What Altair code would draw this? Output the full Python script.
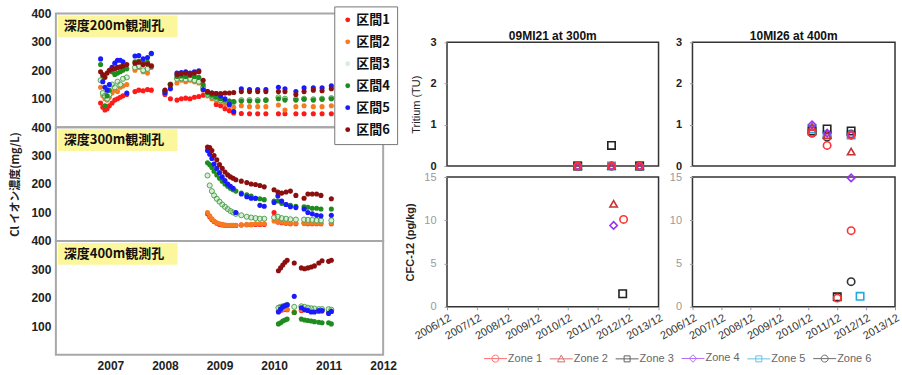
import altair as alt
import pandas as pd

# ---------------- left chart data (Cl ion concentration, mg/L) ----------------
zones_jp = ["区間1", "区間2", "区間3", "区間4", "区間5", "区間6"]
panel_labels = ["深度200m観測孔", "深度300m観測孔", "深度400m観測孔"]
left_years = [2007, 2008, 2009, 2010, 2011, 2012]
left_yticks = [100, 200, 300, 400]
left_ytitle = "Cl イオン濃度(mg/L)"

d200 = [2006.82, 2006.86, 2006.90, 2006.94, 2006.98,
        2007.03, 2007.08, 2007.13, 2007.18, 2007.23, 2007.30,
        2007.45, 2007.52, 2007.60, 2007.68, 2007.75,
        2008.00, 2008.10, 2008.22, 2008.30, 2008.38, 2008.46, 2008.54, 2008.62, 2008.70, 2008.78, 2008.86, 2008.94,
        2009.02, 2009.10, 2009.18, 2009.26,
        2009.40, 2009.55, 2009.70, 2009.85,
        2010.08, 2010.20, 2010.40, 2010.55, 2010.72, 2010.88,
        2011.05]
cl200_z1 = [85, 70, 60, 65, 75, 85, 95, 100, 105, 110, 115, 125, 130, 128, 132, 130,
            115, 100, 95, 100, 102, 100, 105, 108, 112, 120, 110, 80, 75, 65, 58, 50,
            48, 47, 47, 47, 47, 47, 47, 47, 47, 47, 47]
cl200_z2 = [140, 110, 100, 95, 105, 120, 130, 125, 140, 145, 150, 200, 210, 195, 190, 210,
            120, 140, 155, 165, 160, 165, 160, 155, 130, 110, 100, 95, 90, 82, 75, 70,
            75, 72, 72, 72, 78, 60, 72, 75, 72, 72, 75]
cl200_z3 = [165, 120, 110, 100, 115, 150, 140, 160, 150, 170, 175, 210, 215, 200, 205, 215,
            125, 150, 170, 172, 168, 170, 165, 160, 140, 115, 108, 100, 95, 92, 90, 88,
            95, 95, 95, 95, 105, 100, 98, 100, 98, 100, 102]
cl200_z4 = [220, 180, 75, 110, 130, 195, 185, 190, 195, 200, 205, 230, 232, 225, 228, 258,
            128, 150, 178, 180, 178, 182, 178, 175, 150, 120, 112, 105, 100, 95, 92, 90,
            92, 92, 92, 95, 100, 95, 95, 98, 95, 98, 100]
cl200_z5 = [240, 160, 140, 130, 150, 210, 225, 235, 235, 230, 120, 250, 252, 240, 245, 260,
            120, 135, 190, 192, 195, 190, 195, 198, 132, 125, 120, 118, 110, 100, 80, 55,
            135, 132, 132, 132, 140, 135, 125, 138, 138, 138, 145]
cl200_z6 = [195, 185, 175, 190, 200, 205, 205, 210, 212, 215, 220, 225, 228, 220, 222, 215,
            130, 150, 185, 188, 190, 185, 190, 195, 165, 125, 120, 118, 118, 120, 120, 122,
            125, 125, 125, 125, 125, 125, 115, 125, 130, 128, 135]

d300 = [2008.78, 2008.82, 2008.86, 2008.90, 2008.95, 2009.00, 2009.05, 2009.10, 2009.15, 2009.20,
        2009.25, 2009.30, 2009.40, 2009.50, 2009.58, 2009.66, 2009.74, 2009.82, 2010.00, 2010.07,
        2010.14, 2010.22, 2010.30, 2010.40, 2010.55, 2010.62, 2010.70, 2010.78, 2010.86, 2011.05]
cl300_z1 = [95, 85, 75, 68, 62, 58, 56, 55, 54, 54, 54, 54, 56, 57, 57,
            58, 58, 58, 100, 66, 64, 62, 60, 60, 62, 60, 60, 60, 60, 60]
cl300_z2 = [100, 88, 78, 70, 64, 60, 58, 56, 55, 55, 55, 55, 57, 58, 58,
            60, 60, 60, 70, 68, 66, 64, 62, 62, 64, 62, 62, 62, 62, 62]
cl300_z3 = [230, 195, 175, 160, 148, 138, 128, 120, 112, 105, 100, 95, 90, 85, 82,
            80, 78, 78, 82, 85, 80, 78, 76, 75, 75, 74, 74, 72, 72, 72]
cl300_z4 = [275, 268, 258, 245, 232, 220, 210, 200, 192, 185, 180, 175, 168, 162, 158,
            150, 148, 145, 140, 140, 132, 128, 125, 122, 120, 118, 115, 115, 112, 112]
cl300_z5 = [318, 305, 290, 270, 255, 240, 225, 212, 200, 192, 185, 100, 165, 155, 150,
            150, 125, 122, 135, 158, 140, 128, 120, 117, 112, 100, 95, 90, 88, 90]
cl300_z6 = [330, 328, 318, 300, 285, 268, 255, 242, 232, 225, 220, 215, 210, 205, 200,
            198, 195, 190, 180, 172, 168, 172, 175, 160, 150, 165, 165, 165, 160, 148]

d400 = [2010.08, 2010.12, 2010.16, 2010.20, 2010.24, 2010.37, 2010.50, 2010.56,
        2010.62, 2010.68, 2010.74, 2010.82, 2010.88, 2011.00, 2011.05]
cl400_z1 = [152, 155, 158, 160, 158, 148, 155, 158, 156, 154, 153, 152, 153, 148, 152]
cl400_z2 = [155, 158, 160, 162, 160, 150, 158, 160, 158, 156, 155, 154, 155, 150, 155]
cl400_z3 = [165, 168, 170, 172, 175, 168, 170, 168, 165, 163, 162, 160, 160, 160, 158]
cl400_z4 = [108, 112, 118, 122, 125, 148, 125, 122, 120, 118, 116, 114, 112, 112, 108]
cl400_z5 = [150, 160, 168, 172, 175, 205, 165, 158, 155, 150, 150, 155, 155, 145, 152]
cl400_z6 = [295, 305, 315, 325, 332, 322, 305, 302, 305, 308, 312, 322, 330, 328, 332]

# ---------------- right chart data ----------------
zones_en = ["Zone 1", "Zone 2", "Zone 3", "Zone 4", "Zone 5", "Zone 6"]
right_titles = ["09MI21 at 300m", "10MI26 at 400m"]
tri_title = "Tritium (TU)"
cfc_title = "CFC-12 (pg/kg)"
tick_years = [2006, 2007, 2008, 2009, 2010, 2011, 2012, 2013]
tri_ticks = [0, 1, 2, 3]
cfc_ticks = [0, 5, 10, 15]

tri09_year = [2011.24, 2012.36, 2013.29]
tri09_z1 = [0, 0, 0]
tri09_z2 = [0, 0, 0]
tri09_z3 = [0, 0.5, 0]
tri09_z4 = [0, 0, 0]
tri09_z5 = [0, 0, 0]
tri09_z6 = [0, 0, 0]

tri10_year = [2011.05, 2011.57, 2012.40]
tri10_z1 = [0.80, 0.50, 0.75]
tri10_z2 = [0.95, 0.75, 0.35]
tri10_z3 = [0.85, 0.90, 0.85]
tri10_z4 = [1.00, 0.80, 0.75]
tri10_z5 = [0.90, 0.75, 0.75]
tri10_z6 = [0.80, 0.70, 0.78]

cfc09_zone = ["Zone 2", "Zone 1", "Zone 4", "Zone 3"]
cfc09_year = [2012.43, 2012.76, 2012.43, 2012.73]
cfc09_val = [11.9, 10.1, 9.4, 1.5]

cfc10_zone = ["Zone 1", "Zone 3", "Zone 1", "Zone 4", "Zone 5", "Zone 6"]
cfc10_year = [2011.92, 2011.92, 2012.40, 2012.40, 2012.71, 2012.40]
cfc10_val = [1.0, 1.15, 8.8, 14.9, 1.2, 2.9]

# ---------------- styles ----------------
jp_colors = ["#ff1a1a", "#f47b20", "#d6f0d6", "#1e8c1e", "#1a1aff", "#8b0f0f"]
en_colors = {"Zone 1": "#ff3333", "Zone 2": "#c83232", "Zone 3": "#222222",
             "Zone 4": "#9933ee", "Zone 5": "#22aadd", "Zone 6": "#333333"}
en_shapes = {"Zone 1": "circle", "Zone 2": "triangle-up", "Zone 3": "square",
             "Zone 4": "diamond", "Zone 5": "square", "Zone 6": "circle"}
legend_paths = [
    "M-2.3,0H2.3M-0.7,0A0.7,0.7 0 1,0 0.7,0A0.7,0.7 0 1,0 -0.7,0Z",
    "M-2.3,0H2.3M0,-0.75L0.75,0.6L-0.75,0.6Z",
    "M-2.3,0H2.3M-0.6,-0.6H0.6V0.6H-0.6Z",
    "M-2.3,0H2.3M0,-0.75L0.75,0L0,0.75L-0.75,0Z",
    "M-2.3,0H2.3M-0.6,-0.6H0.6V0.6H-0.6Z",
    "M-2.3,0H2.3M-0.7,0A0.7,0.7 0 1,0 0.7,0A0.7,0.7 0 1,0 -0.7,0Z",
]
draw_order = ["Zone 6", "Zone 5", "Zone 3", "Zone 2", "Zone 4", "Zone 1"]

LW, LH = 328, 114
FONT = "Liberation Sans"
JPFONT = "Noto Sans CJK JP"

color_scale = alt.Scale(domain=zones_jp, range=jp_colors)
left_legend = alt.Legend(title=None, orient="none", legendX=279, legendY=-7,
                         labelFont=JPFONT, labelFontSize=13, labelFontWeight="bold",
                         labelColor="#111", symbolType="circle", symbolSize=24,
                         symbolStrokeWidth=0, rowPadding=8, padding=7, labelOffset=2,
                         strokeColor="#777", fillColor="white")


def left_panel(idx, dates, series, show_x, ytitle):
    xaxis = alt.Axis(values=left_years, format="d", labelFont=FONT, labelFontSize=12,
                     labelFontWeight="bold", labelColor="#222", domain=False, ticks=False,
                     grid=False, labelPadding=6, title=None, labelFlush=False) if show_x else None
    yaxis = alt.Axis(values=left_yticks, labelFont=FONT, labelFontSize=12, labelFontWeight="bold",
                     labelColor="#222", domain=False, ticks=False, grid=False, labelPadding=5,
                     title=ytitle if ytitle else None, titleFont=JPFONT, titleFontSize=11,
                     titleFontWeight="bold", titleColor="#222", titlePadding=10)
    layers = []
    for z, vals in zip(zones_jp, series):
        df = pd.DataFrame({"year": dates, "cl": vals, "zone": z})
        enc = dict(x=alt.X("year:Q", scale=alt.Scale(domain=[2006, 2012], nice=False, zero=False), axis=xaxis),
                   y=alt.Y("cl:Q", scale=alt.Scale(domain=[0, 400], nice=False), axis=yaxis))
        layers.append(alt.Chart(df).mark_circle(size=26, opacity=1).encode(
            color=alt.Color("zone:N", scale=color_scale, legend=left_legend), **enc))
        if z == "区間3":
            layers.append(alt.Chart(df).mark_point(size=26, filled=False, color="#4a9a4a",
                                                   strokeWidth=0.9, opacity=1).encode(**enc))
    lab = pd.DataFrame({"label": [panel_labels[idx]]})
    box = alt.Chart(lab).mark_rect(color="#fcf79c").encode(
        x=alt.value(2), x2=alt.value(122), y=alt.value(2), y2=alt.value(24))
    txt = alt.Chart(lab).mark_text(font=JPFONT, fontSize=13, fontWeight="bold", color="#111",
                                   align="left", baseline="middle").encode(
        x=alt.value(8), y=alt.value(13), text="label:N")
    return alt.layer(box, txt, *layers).properties(
        width=LW, height=LH, view=alt.ViewBackground(stroke="#a8a8a8", strokeWidth=2))


left = alt.vconcat(
    left_panel(0, d200, [cl200_z1, cl200_z2, cl200_z3, cl200_z4, cl200_z5, cl200_z6], False, None),
    left_panel(1, d300, [cl300_z1, cl300_z2, cl300_z3, cl300_z4, cl300_z5, cl300_z6], False, left_ytitle),
    left_panel(2, d400, [cl400_z1, cl400_z2, cl400_z3, cl400_z4, cl400_z5, cl400_z6], True, None),
    spacing=0, bounds="flush")

# ---------------- right chart ----------------
xr = alt.Scale(domain=[2006 + 11 / 12, 2013 + 11 / 12], nice=False, zero=False)
xtick_vals = [y + 11 / 12 for y in tick_years]


def long_dict(years, d):
    rows = []
    for z in zones_en:
        for y, v in zip(years, d[z]):
            rows.append({"zone": z, "year": y, "val": v})
    return pd.DataFrame(rows)


tri09 = long_dict(tri09_year, {"Zone 1": tri09_z1, "Zone 2": tri09_z2, "Zone 3": tri09_z3,
                               "Zone 4": tri09_z4, "Zone 5": tri09_z5, "Zone 6": tri09_z6})
tri10 = long_dict(tri10_year, {"Zone 1": tri10_z1, "Zone 2": tri10_z2, "Zone 3": tri10_z3,
                               "Zone 4": tri10_z4, "Zone 5": tri10_z5, "Zone 6": tri10_z6})
cfc09 = pd.DataFrame({"zone": cfc09_zone, "year": cfc09_year, "val": cfc09_val})
cfc10 = pd.DataFrame({"zone": cfc10_zone, "year": cfc10_year, "val": cfc10_val})


def right_panel(df, is_tri, col, with_legend=False):
    w = 212 if col == 0 else 203
    h = 124 if is_tri else 130
    xaxis = None if is_tri else alt.Axis(
        values=xtick_vals, labelExpr="floor(datum.value + 0.01) + '/12'", labelAngle=-30,
        labelAlign="right", labelBaseline="top", labelFont=FONT, labelFontSize=11,
        labelColor="#333", tickColor="#999", tickSize=3, domain=False, grid=False,
        labelPadding=2, title=None, labelOverlap=False, labelFlush=False)
    ytitle = (tri_title if is_tri else cfc_title) if col == 0 else None
    yaxis = alt.Axis(values=tri_ticks if is_tri else cfc_ticks, grid=False, domain=False,
                     tickSize=3, tickColor="#999", labelFont=FONT, labelFontSize=11,
                     labelColor="#222" if is_tri else "#9a9a9a",
                     labelFontWeight="bold" if is_tri else "normal", labelPadding=8,
                     title=ytitle if ytitle else None, titleFont=FONT, titleFontSize=11,
                     titleFontWeight="normal" if is_tri else "bold", titleColor="#222",
                     titlePadding=8)
    ysc = alt.Scale(domain=[0, 3] if is_tri else [0, 15], nice=False)
    layers = []
    for z in draw_order:
        sub = df[df.zone == z]
        if len(sub) == 0:
            continue
        layers.append(alt.Chart(sub).mark_point(
            shape=en_shapes[z], filled=False, size=55, strokeWidth=1.6,
            color=en_colors[z], opacity=1, clip=False).encode(
            x=alt.X("year:Q", scale=xr, axis=xaxis), y=alt.Y("val:Q", scale=ysc, axis=yaxis)))
    if with_legend:
        leg_df = pd.DataFrame({"zone": zones_en, "year": [None] * 6, "val": [None] * 6})
        leg = alt.Legend(title=None, orient="none", legendX=433, legendY=338, direction="horizontal",
                         labelFont=FONT, labelFontSize=11, labelColor="#666",
                         symbolStrokeWidth=1, columnPadding=5, labelOffset=7, padding=2)
        layers.append(alt.Chart(leg_df).mark_point(filled=False, size=64, strokeWidth=1).encode(
            x=alt.X("year:Q", scale=xr, axis=xaxis), y=alt.Y("val:Q", scale=ysc, axis=yaxis),
            stroke=alt.Stroke("zone:N", scale=alt.Scale(domain=zones_en, range=[en_colors[z] for z in zones_en]), legend=leg),
            shape=alt.Shape("zone:N", scale=alt.Scale(domain=zones_en, range=legend_paths), legend=leg)))
    props = dict(width=w, height=h, view=alt.ViewBackground(stroke="#333", strokeWidth=1.5))
    if is_tri:
        props["title"] = alt.TitleParams(right_titles[col], frame="group", anchor="middle", font=FONT,
                                         fontSize=12, fontWeight="bold", color="#111", offset=-7)
    return alt.layer(*layers).properties(**props)


grid = alt.concat(
    right_panel(tri09, True, 0), right_panel(tri10, True, 1),
    right_panel(cfc09, False, 0, with_legend=True), right_panel(cfc10, False, 1),
    columns=2, spacing={"row": 11, "column": 34}, bounds="flush")

spacer = alt.Chart(pd.DataFrame({"a": [0]})).mark_point(opacity=0).encode(
    x=alt.X("a:Q", axis=None), y=alt.Y("a:Q", axis=None)).properties(
    width=1, height=1, view=alt.ViewBackground(stroke="transparent"))
right = alt.vconcat(spacer, grid, spacing=12)

chart = alt.hconcat(left, right, spacing=6).properties(
    background="white", padding={"left": 8, "top": 5, "right": 0, "bottom": 0}
).configure_view(stroke="#999")

chart.save("out.html", embed_options={"renderer": "svg", "actions": False})
